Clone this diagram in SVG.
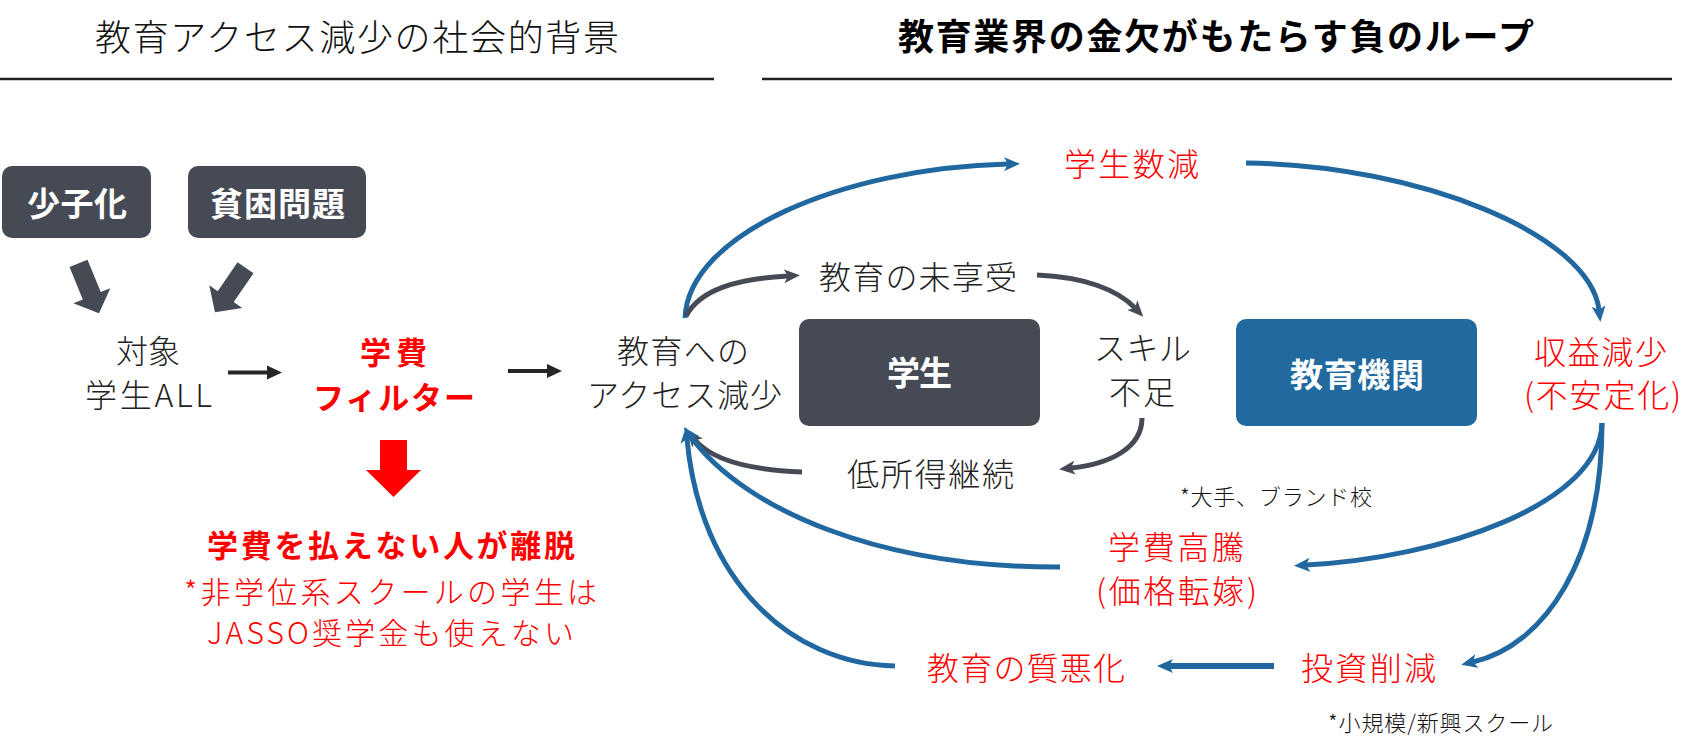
<svg xmlns="http://www.w3.org/2000/svg" width="1707" height="750" viewBox="0 0 1707 750">
<style>
text{font-family:"Noto Sans CJK JP","Noto Sans",sans-serif;dominant-baseline:central}
.t{fill:#222;font-size:32px;font-weight:300}
.r{fill:#ff0000;font-size:32px;font-weight:300}
.rn{fill:#ff0000;font-size:30px;font-weight:300}
.rb{fill:#ff0000;font-size:31px;font-weight:700}
.w{fill:#ffffff;font-size:33px;font-weight:700}
.s{fill:#111;font-size:22px;font-weight:300}
.blue{fill:none;stroke:#2268a0;stroke-width:5}
.dark{fill:none;stroke:#454a55;stroke-width:5}
</style>
<defs>
<marker id="ab" viewBox="0 0 16 14" refX="4" refY="7" markerWidth="16" markerHeight="14" markerUnits="userSpaceOnUse" orient="auto"><path d="M0,0 L16,7 L0,14 L4,7 Z" fill="#2268a0"/></marker>
<marker id="ad" viewBox="0 0 16 14" refX="4" refY="7" markerWidth="16" markerHeight="14" markerUnits="userSpaceOnUse" orient="auto"><path d="M0,0 L16,7 L0,14 L4,7 Z" fill="#454a55"/></marker>
</defs>
<rect width="1707" height="750" fill="#ffffff"/>

<g id="titles">
<text x="95" y="35" textLength="524" lengthAdjust="spacing" style="fill:#111;font-size:36px;font-weight:300">教育アクセス減少の社会的背景</text>
<line x1="0" y1="79" x2="714" y2="79" stroke="#222" stroke-width="2.5"/>
<text x="898" y="34" textLength="636" lengthAdjust="spacing" style="fill:#000;font-size:36px;font-weight:700">教育業界の金欠がもたらす負のループ</text>
<line x1="762" y1="79" x2="1672" y2="79" stroke="#222" stroke-width="2.5"/>
</g>

<g id="node-shoushika">
<rect x="2" y="166" width="149" height="72" rx="10" fill="#454a55"/>
<text x="27" y="202" textLength="100" lengthAdjust="spacing" class="w">少子化</text>
</g>
<g id="node-hinkon">
<rect x="188" y="166" width="178" height="72" rx="10" fill="#454a55"/>
<text x="210" y="202" textLength="135" lengthAdjust="spacing" class="w">貧困問題</text>
</g>

<g id="fat-arrows" fill="#454a55">
<polygon transform="translate(99,313.3) rotate(-22.3)" points="-9.7,-54 9.7,-54 9.7,-19 20,-19 0,0 -20,-19 -9.7,-19"/>
<polygon transform="translate(215,312.3) rotate(34.4)" points="-9.7,-54 9.7,-54 9.7,-19 20,-19 0,0 -20,-19 -9.7,-19"/>
</g>

<g id="node-taishou">
<text x="116" y="348.5" textLength="64" lengthAdjust="spacing" class="t">対象</text>
<text x="85" y="392.5" textLength="127" lengthAdjust="spacing" class="t">学生ALL</text>
</g>

<g id="node-filter">
<text x="360" y="350" textLength="67" lengthAdjust="spacing" class="rb">学費</text>
<text x="313" y="395" textLength="162" lengthAdjust="spacing" class="rb">フィルター</text>
</g>

<g id="left-arrows">
<line x1="228" y1="372.5" x2="269" y2="372.5" stroke="#262626" stroke-width="4"/>
<polygon points="267,365.5 282,372.5 267,379.5" fill="#262626"/>
<line x1="508" y1="371" x2="549" y2="371" stroke="#262626" stroke-width="4"/>
<polygon points="547,364 562,371 547,378" fill="#262626"/>
<polygon points="380,440 407,440 407,470 421,470 393.5,497 366,470 380,470" fill="#ff0000"/>
</g>

<g id="node-ridatsu">
<text x="207" y="543" textLength="368" lengthAdjust="spacing" class="rb">学費を払えない人が離脱</text>
<text x="184" y="590" textLength="413" lengthAdjust="spacing" class="rn">*非学位系スクールの学生は</text>
<text x="207" y="631" textLength="367" lengthAdjust="spacing" class="rn">JASSO奨学金も使えない</text>
</g>

<g id="connectors">
<path class="blue" marker-end="url(#ab)" d="M685,318 C688,235 840,168 1008,164"/>
<path class="dark" marker-end="url(#ad)" d="M686,316 C700,290 735,279 788,276"/>
<path class="blue" marker-end="url(#ab)" d="M1246,163 C1420,165 1590,235 1599,310"/>
<path class="dark" marker-end="url(#ad)" d="M1037,275 C1085,277 1118,290 1135,308"/>
<path class="dark" marker-end="url(#ad)" d="M1142,418 C1142,448 1110,464 1071,468"/>
<path class="dark" marker-end="url(#ad)" d="M802,472 C750,470 712,460 695,440"/>
<path class="blue" marker-end="url(#ab)" d="M1060,567 C880,568 745,510 691,437"/>
<path class="blue" marker-end="url(#ab)" d="M895,666 C790,664 700,580 687,439"/>
<path class="blue" marker-end="url(#ab)" d="M1602,423 C1600,505 1440,558 1306,565"/>
<path class="blue" marker-end="url(#ab)" d="M1602,423 C1602,560 1545,645 1473,662"/>
<path class="blue" style="stroke-width:6" marker-end="url(#ab)" d="M1274,666 L1169,666"/>
</g>

<g id="node-access">
<text x="617" y="349" textLength="132" lengthAdjust="spacing" class="t">教育への</text>
<text x="587" y="392.5" textLength="195" lengthAdjust="spacing" class="t">アクセス減少</text>
</g>

<g id="node-gakusei">
<rect x="799" y="319" width="241" height="107" rx="10" fill="#454a55"/>
<text x="887" y="371" textLength="65" lengthAdjust="spacing" class="w">学生</text>
</g>

<g id="node-mikyouju">
<text x="819" y="275" textLength="198" lengthAdjust="spacing" class="t">教育の未享受</text>
</g>

<g id="node-skill">
<text x="1094" y="346" textLength="97" lengthAdjust="spacing" class="t">スキル</text>
<text x="1109" y="390" textLength="66" lengthAdjust="spacing" class="t">不足</text>
</g>

<g id="node-teishotoku">
<text x="847" y="471.5" textLength="167" lengthAdjust="spacing" class="t">低所得継続</text>
</g>

<g id="node-gakuseisuugen">
<text x="1064" y="161.5" textLength="135" lengthAdjust="spacing" class="r">学生数減</text>
</g>

<g id="node-kikan">
<rect x="1236" y="319" width="241" height="107" rx="10" fill="#216aa0"/>
<text x="1290" y="372.5" textLength="134" lengthAdjust="spacing" class="w">教育機関</text>
</g>

<g id="node-shuueki">
<text x="1534" y="350" textLength="133" lengthAdjust="spacing" class="r">収益減少</text>
<text x="1524" y="393" textLength="157" lengthAdjust="spacing" class="r">(不安定化)</text>
</g>

<g id="node-koutou">
<text x="1108" y="545" textLength="136" lengthAdjust="spacing" class="r">学費高騰</text>
<text x="1096" y="589" textLength="161" lengthAdjust="spacing" class="r">(価格転嫁)</text>
</g>

<g id="node-toushi">
<text x="1301" y="666" textLength="135" lengthAdjust="spacing" class="r">投資削減</text>
</g>

<g id="node-shitsu">
<text x="927" y="666" textLength="198" lengthAdjust="spacing" class="r">教育の質悪化</text>
</g>

<g id="notes">
<text x="1180" y="495" textLength="192" lengthAdjust="spacing" class="s">*大手、ブランド校</text>
<text x="1328" y="721" textLength="225" lengthAdjust="spacing" class="s">*小規模/新興スクール</text>
</g>
</svg>
